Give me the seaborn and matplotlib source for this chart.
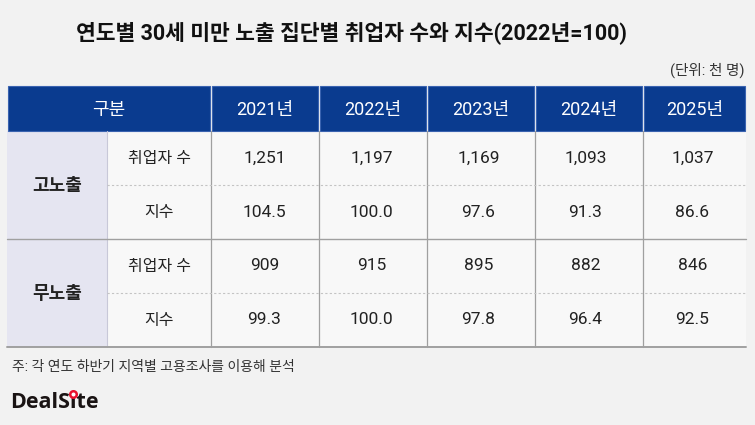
import matplotlib
matplotlib.use("Agg")
import matplotlib.pyplot as plt
from matplotlib.colors import ListedColormap
from matplotlib.patches import Rectangle
import numpy as np
import seaborn as sns

# ---- data ----
years = ["2021년", "2022년", "2023년", "2024년", "2025년"]
groups = ["고노출", "무노출"]
metrics = ["취업자 수", "지수"]
high_workers = [1251, 1197, 1169, 1093, 1037]
high_index = [104.5, 100.0, 97.6, 91.3, 86.6]
none_workers = [909, 915, 895, 882, 846]
none_index = [99.3, 100.0, 97.8, 96.4, 92.5]
title = "연도별 30세 미만 노출 집단별 취업자 수와 지수(2022년=100)"
unit = "(단위: 천 명)"
note = "주: 각 연도 하반기 지역별 고용조사를 이용해 분석"
brand = "DealSite"

sns.set_theme(style="white")
plt.rcParams["font.family"] = ["Roboto", "Noto Sans CJK KR", "DejaVu Sans"]

W, H = 755, 425
BG = "#f2f2f2"
CELL = "#f8f8f8"
LAV = "#e5e5f1"
BLUE = "#0a3b8f"
GRID = "#a0a0a0"

fig = plt.figure(figsize=(W / 100, H / 100), dpi=100, facecolor=BG)

# table geometry (pixels)
left, right = 7, 746
col_edges = [211, 319, 427, 535, 643, 746]
label_split = 107
head_top, head_bot = 86, 131
body_top, body_bot = 131, 347
x0, x1 = col_edges[0], col_edges[-1]

# number area with seaborn heatmap
vals = np.array([high_workers, high_index, none_workers, none_index], dtype=float)
annot = np.array([
    [f"{v:,}" for v in high_workers],
    [f"{v:.1f}" for v in high_index],
    [f"{v:,}" for v in none_workers],
    [f"{v:.1f}" for v in none_index],
])
hm = fig.add_axes([x0 / W, 1 - body_bot / H, (x1 - x0) / W, (body_bot - body_top) / H])
sns.heatmap(vals, ax=hm, annot=annot, fmt="", cmap=ListedColormap([CELL]), cbar=False,
            linewidths=0, xticklabels=False, yticklabels=False,
            annot_kws={"fontsize": 12.5, "color": "#222222"})
hm.axis("off")

base = fig.add_axes([0, 0, 1, 1])
base.set_zorder(5)
base.patch.set_alpha(0)
base.set_xlim(0, W)
base.set_ylim(H, 0)
base.axis("off")

rows = np.linspace(body_top, body_bot, 5)

# left label areas
base.add_patch(Rectangle((left, body_top), label_split - left, body_bot - body_top, facecolor=LAV, edgecolor="none", zorder=1))
base.add_patch(Rectangle((label_split, body_top), x0 - label_split, body_bot - body_top, facecolor=CELL, edgecolor="none", zorder=1))

# header
hdr_cells = [(left, col_edges[0])] + list(zip(col_edges[:-1], col_edges[1:]))
hdr_text = ["구분"] + years
for (a, b), t in zip(hdr_cells, hdr_text):
    base.add_patch(Rectangle((a + 1, head_top), b - a - 2, head_bot - head_top,
                             facecolor=BLUE, edgecolor="#3a63b0", linewidth=0.8, zorder=3))
    base.text((a + b) / 2, (head_top + head_bot) / 2 + 1, t, color="white", fontsize=13,
              ha="center", va="center", zorder=4)

# group / metric labels
for gi, g in enumerate(groups):
    base.text((left + label_split) / 2, (rows[2 * gi] + rows[2 * gi + 2]) / 2 + 1, g,
              fontsize=13, fontweight="bold", color="#222222", ha="center", va="center", zorder=4)
    for mi, m in enumerate(metrics):
        r = 2 * gi + mi
        base.text((label_split + x0) / 2, (rows[r] + rows[r + 1]) / 2, m,
                  fontsize=11.5, color="#222222", ha="center", va="center", zorder=4)

# grid lines
for xv in col_edges[:-1]:
    base.plot([xv, xv], [body_top, body_bot], color=GRID, lw=0.9, zorder=5)
base.plot([label_split, label_split], [body_top, body_bot], color="#c8c8d8", lw=0.8, zorder=5)
base.plot([left, right], [rows[2], rows[2]], color=GRID, lw=1.0, zorder=5)
base.plot([left, right], [body_bot, body_bot], color=GRID, lw=1.4, zorder=5)
for r in (1, 3):
    base.plot([label_split, right], [rows[r], rows[r]], color="#c4c4c4", lw=0.8,
              linestyle=(0, (2, 2)), zorder=5)

# texts
base.text(351, 33, title, fontsize=15.5, fontweight="bold", color="#111111", ha="center", va="center")
base.text(745, 70, unit, fontsize=10.5, color="#333333", ha="right", va="center")
base.text(12, 367, note, fontsize=10, color="#333333", ha="left", va="center")
bprops = dict(fontsize=15.5, fontweight="bold", color="#1a1414", ha="left", va="center",
              family=["Open Sans", "DejaVu Sans"])
bt = base.text(10, 403, brand, **bprops)

# red ring over the "i": locate it from the rendered text width
fig.canvas.draw()
rend = fig.canvas.get_renderer()
tmp1 = base.text(10, 403, "DealS", **bprops)
tmp2 = base.text(10, 403, "DealSi", **bprops)
w1 = tmp1.get_window_extent(rend).x1
w2 = tmp2.get_window_extent(rend).x1
tmp1.remove(); tmp2.remove()
xi = (w1 + w2) / 2 * W / fig.bbox.width
base.scatter([xi], [393.5], s=22, color="white", edgecolors="#e8112d", linewidths=1.8, zorder=6)

fig.savefig("out.png", dpi=100, facecolor=BG)
